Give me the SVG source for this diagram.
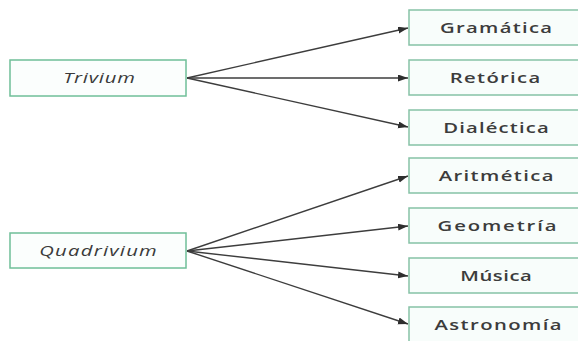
<svg xmlns="http://www.w3.org/2000/svg" width="578" height="341" viewBox="0 0 578 341">
<style>
.box{fill:#f8fdfb;stroke:#86c2a6;stroke-width:1.5}
.lbox{fill:#fbfefd;stroke:#6fbf98;stroke-width:1.5}
.t{font-family:"Open Sans","Liberation Sans",sans-serif;font-size:15px;font-weight:600;fill:#3c3c3c;text-anchor:middle}
.ti{font-family:"Open Sans","Liberation Sans",sans-serif;font-size:15px;font-style:italic;fill:#3a3a3a;text-anchor:middle}
.c{stroke:#3d3d3d;stroke-width:1.4;fill:none;marker-end:url(#ah)}
</style>
<defs>
<marker id="ah" markerUnits="userSpaceOnUse" markerWidth="11" markerHeight="8" refX="10" refY="3.5" orient="auto">
<path d="M0,0 L10,3.5 L0,7 z" fill="#2e2e2e"/>
</marker>
</defs>
<rect width="578" height="341" fill="#ffffff"/>
<g id="connectors">
<line class="c" x1="187" y1="78" x2="408" y2="28"/>
<line class="c" x1="187" y1="78" x2="408" y2="78"/>
<line class="c" x1="187" y1="78" x2="408" y2="127"/>
<line class="c" x1="187" y1="251" x2="408" y2="176"/>
<line class="c" x1="187" y1="251" x2="408" y2="226"/>
<line class="c" x1="187" y1="251" x2="408" y2="276"/>
<line class="c" x1="187" y1="251" x2="408" y2="324"/>
</g>
<g id="trivium"><rect class="lbox" x="10" y="60" width="176" height="36"/><text class="ti" transform="translate(99,83) scale(1.35,1)" textLength="53" lengthAdjust="spacing">Trivium</text></g>
<g id="quadrivium"><rect class="lbox" x="10" y="233" width="176" height="35"/><text class="ti" transform="translate(98,256) scale(1.35,1)" textLength="87" lengthAdjust="spacing">Quadrivium</text></g>
<g id="gramatica"><rect class="box" x="409" y="10" width="180" height="35"/><text class="t" transform="translate(496,33) scale(1.35,1)" textLength="83" lengthAdjust="spacing">Gramática</text></g>
<g id="retorica"><rect class="box" x="409" y="60" width="180" height="35"/><text class="t" transform="translate(495,83) scale(1.35,1)" textLength="67" lengthAdjust="spacing">Retórica</text></g>
<g id="dialectica"><rect class="box" x="409" y="110" width="180" height="35"/><text class="t" transform="translate(496,133) scale(1.35,1)" textLength="78" lengthAdjust="spacing">Dialéctica</text></g>
<g id="aritmetica"><rect class="box" x="409" y="158" width="180" height="35"/><text class="t" transform="translate(496,181) scale(1.35,1)" textLength="85" lengthAdjust="spacing">Aritmética</text></g>
<g id="geometria"><rect class="box" x="409" y="208" width="180" height="35"/><text class="t" transform="translate(497,231) scale(1.35,1)" textLength="88" lengthAdjust="spacing">Geometría</text></g>
<g id="musica"><rect class="box" x="409" y="258" width="180" height="35"/><text class="t" transform="translate(496,281) scale(1.35,1)" textLength="53" lengthAdjust="spacing">Música</text></g>
<g id="astronomia"><rect class="box" x="409" y="307" width="180" height="36"/><text class="t" transform="translate(498,330) scale(1.35,1)" textLength="94" lengthAdjust="spacing">Astronomía</text></g>
</svg>
